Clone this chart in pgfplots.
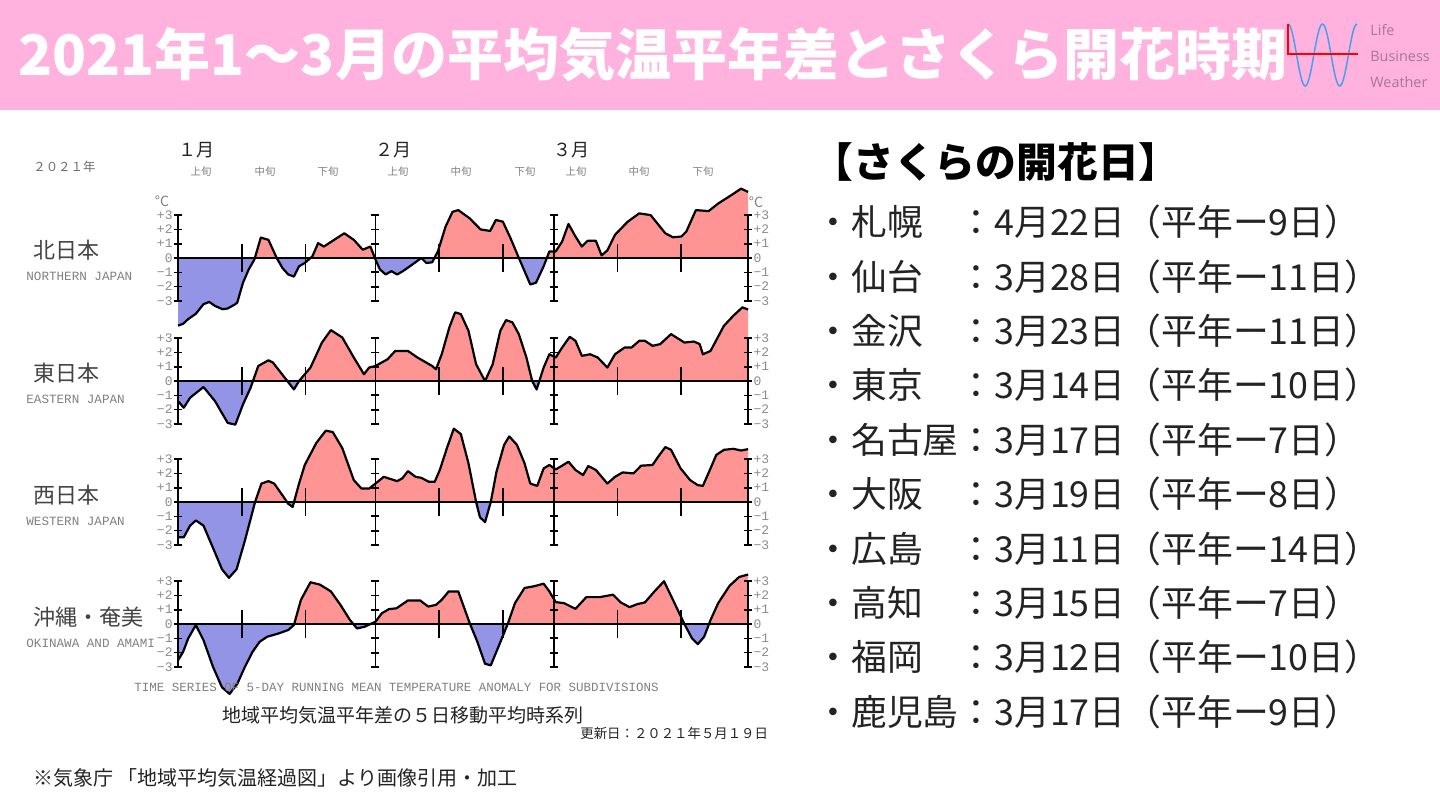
\documentclass[border=0pt]{standalone}
\usepackage{fontspec}
\usepackage{pgfplots}
\usepackage{pgfplotstable}
\pgfplotsset{compat=1.18}
\usetikzlibrary{plotmarks}
\setmainfont{Noto Sans CJK JP}
\newfontfamily\mono{Liberation Mono}
\newfontfamily\opens{Open Sans}
\newcommand\fs[1]{\fontsize{#1}{#1}\selectfont}

\definecolor{hdr}{RGB}{255,178,222}
\definecolor{warmfill}{RGB}{255,148,148}
\definecolor{coldfill}{RGB}{148,148,230}
\definecolor{logoblue}{RGB}{70,160,235}
\definecolor{logotxt}{RGB}{165,120,150}
\definecolor{ink}{RGB}{35,35,35}

% 5-day running mean anomaly (deg C), x = days since 1 Jan 2021
\pgfplotstableread{
d v
0 -4.73
0.8 -4.6
1.6 -4.27
2.8 -3.9
4.0 -3.23
4.9 -3.07
5.8 -3.35
7.0 -3.58
7.8 -3.53
9.0 -3.23
9.3 -3.12
10.2 -1.73
11.1 -0.8
12.0 -0.1
13.0 1.43
14.2 1.27
15.5 0
16.4 -0.7
17.3 -1.15
18.2 -1.3
19.0 -0.58
19.9 -0.35
21.1 0.12
22.0 1.04
22.9 0.8
24.1 1.15
26.1 1.73
27.6 1.27
29.0 0.58
30.2 0.8
31.0 -0.1
31.7 -0.8
32.6 -1.15
33.5 -0.92
34.4 -1.15
35.3 -0.92
36.4 -0.58
38.2 0
39.0 -0.35
39.9 -0.3
40.8 0.46
42.0 2.19
43.1 3.23
44.0 3.35
45.8 2.77
47.5 2.0
49.0 1.89
49.9 2.66
51.0 2.54
52.2 1.39
53.4 0.12
55.3 -1.85
56.2 -1.73
57.4 -0.58
58.3 0.46
59.3 0.46
60.3 1.15
61.3 2.38
62.4 1.5
63.4 0.8
64.3 1.2
65.6 1.2
66.5 0.18
67.4 0.53
68.6 1.62
70.6 2.54
72.4 3.12
74.2 3.0
76.5 1.73
77.7 1.45
79.0 1.5
79.8 1.85
81.3 3.35
83.3 3.28
84.8 3.81
86.6 4.32
88.4 4.85
89.5 4.62
}\north

\pgfplotstableread{
d v
0 -1.4
0.9 -1.87
1.9 -1.17
4.0 -0.42
5.8 -1.4
7.8 -2.93
9.0 -3.05
10.2 -1.64
11.4 -0.47
12.6 1.05
14.2 1.45
14.9 1.29
18.2 -0.59
19.0 0
20.8 0.94
22.6 2.69
24.0 3.56
25.8 3.04
27.6 1.64
29.2 0.47
30.0 0.94
31.0 1.05
32.9 1.52
34.1 2.1
36.1 2.1
37.6 1.64
39.9 1.05
40.5 0.82
41.4 1.87
42.6 3.75
43.5 4.8
44.4 4.68
45.6 3.51
46.8 1.17
48.2 0
49.4 1.17
50.6 3.51
51.5 4.26
52.5 4.1
53.5 3.28
54.7 1.64
55.6 0
56.3 -0.59
57.4 0.94
58.3 1.87
59.3 1.64
60.3 2.34
61.5 3.09
62.4 2.81
63.4 1.76
64.7 1.87
65.9 1.64
67.4 0.94
68.6 1.87
70.1 2.34
71.2 2.34
72.4 2.81
73.3 2.81
74.5 2.46
75.7 2.58
77.4 3.28
79.5 2.69
81.0 2.76
81.9 2.58
82.4 1.87
83.6 2.1
85.7 3.86
87.2 4.57
88.6 5.15
89.5 5.0
}\east

\pgfplotstableread{
d v
0 -2.47
0.9 -2.47
1.9 -1.65
2.8 -1.29
4.0 -1.65
5.8 -3.53
6.9 -4.7
8.0 -5.3
9.2 -4.7
10.5 -2.7
12.1 0
13.1 1.29
14.2 1.46
15.1 1.29
16.4 0.47
17.3 -0.12
18.0 -0.35
19.0 1.29
19.9 2.59
21.7 4.12
23.2 4.99
24.3 4.89
25.8 3.76
27.6 1.53
28.8 0.94
30.0 0.94
31.0 1.29
32.3 1.76
34.4 1.46
35.2 1.65
36.1 2.16
37.3 1.76
38.2 1.69
39.4 1.41
40.3 1.41
41.1 2.24
42.3 3.88
43.3 5.13
44.4 4.75
45.6 2.71
46.8 0
47.4 -1.06
48.2 -1.41
49.1 0
50.0 2.12
51.2 4.0
52.0 4.59
53.2 4.0
54.4 2.71
55.3 1.29
56.4 1.13
57.4 2.35
58.3 2.59
59.3 2.28
60.3 2.54
61.3 2.82
62.4 2.24
63.6 1.88
64.4 2.52
65.6 2.24
67.4 1.29
68.6 1.76
69.8 2.07
71.5 2.0
72.7 2.54
74.5 2.59
75.4 3.18
76.5 3.84
77.4 3.65
78.9 2.35
80.4 1.53
81.6 1.18
82.4 1.13
83.6 2.35
84.5 3.29
85.7 3.65
87.2 3.72
88.4 3.6
89.5 3.7
}\west

\pgfplotstableread{
d v
0 -2.54
0.8 -1.95
1.6 -1.01
2.8 -0.07
4.0 -1.13
5.5 -3.0
6.9 -4.42
8.1 -4.89
9.3 -4.19
10.5 -3.0
11.7 -1.95
12.8 -1.25
14.0 -0.89
15.8 -0.66
17.3 -0.42
18.2 -0.07
19.3 1.69
20.8 2.92
22.3 2.75
24.0 2.28
25.5 1.34
27.0 0.28
28.1 -0.31
29.3 -0.19
31.0 0.16
32.0 0.75
33.1 1.04
34.3 1.1
36.1 1.65
38.0 1.65
39.3 1.22
40.5 1.34
41.4 1.69
42.5 2.28
44.0 2.28
45.8 0.05
47.0 -1.25
48.2 -2.78
49.1 -2.89
50.3 -1.6
51.8 0.05
52.9 1.46
54.4 2.52
55.9 2.64
57.4 2.82
58.3 2.28
59.3 1.53
60.6 1.46
62.4 1.06
64.1 1.88
66.2 1.88
68.3 2.05
69.5 1.51
70.9 1.18
72.1 1.39
73.3 1.51
74.8 2.28
76.3 2.99
77.7 1.69
79.5 0
80.7 -1.01
81.6 -1.41
82.6 -0.89
83.6 0.28
84.8 1.46
86.6 2.68
88.1 3.29
89.5 3.46
}\okinawa

\pgfplotsset{
  unit/.style={x=3.185pt, y=7.15pt, xmin=0, xmax=89.5, anchor=origin},
  panel/.style={
    unit, ymin=-3, ymax=3, clip=false,
    axis x line=none, axis y line*=left,
    ytick={-3,-2,-1,0,1,2,3},
    yticklabels={−3,−2,−1,0,+1,+2,+3},
    tick align=center, major tick length=4pt,
    axis line style={black, line width=0.9pt},
    major tick style={black, line width=0.8pt},
    yticklabel style={font=\mono\fs{6.5}, text=gray!90, inner sep=0.5pt},
  },
  % an axis that only shows one side of the zero line
  half/.style={unit, hide axis, clip=true},
}

% #1 = vertical position of the zero line (pt, negative downwards), #2 = table
\newcommand\panel[2]{%
\begin{axis}[half, ymin=0, ymax=7, at={(89pt,#1)}]
  \addplot[fill=warmfill, draw=none] table[x=d, y=v] {#2}
    -- (axis cs:89.5,0) -- (axis cs:0,0) -- cycle;
\end{axis}
\begin{axis}[half, ymin=-7, ymax=0, at={(89pt,#1)}]
  \addplot[fill=coldfill, draw=none] table[x=d, y=v] {#2}
    -- (axis cs:89.5,0) -- (axis cs:0,0) -- cycle;
\end{axis}
\begin{axis}[panel, at={(89pt,#1)}]
  \addplot[black, line width=0.75pt] coordinates {(0,0) (89.5,0)};
  \pgfplotsinvokeforeach{10,20,41,51,69,79}{%
    \addplot[black, line width=0.8pt] coordinates {(##1,-1) (##1,1)};}
  \pgfplotsinvokeforeach{31,59}{%
    \addplot[black, line width=0.9pt, mark=-, mark size=2pt, mark options={solid}]
      coordinates {(##1,-3) (##1,-2) (##1,-1) (##1,0) (##1,1) (##1,2) (##1,3)};}
  \addplot[black, line width=1.1pt, line join=round] table[x=d, y=v] {#2};
\end{axis}
\begin{axis}[panel, axis y line*=right, at={(89pt,#1)}]
\end{axis}}

\begin{document}
\begin{tikzpicture}[x=0.5pt, y=-0.5pt]
  \fill[white] (0,0) rectangle (1440,810);
  \fill[hdr] (0,0) rectangle (1440,110);
  \node[anchor=west, text=white, font=\bfseries\fs{28}, inner sep=0] at (18,55)
    {2021年1〜3月の平均気温平年差とさくら開花時期};

  % logo
  \draw[logoblue, line width=0.75pt] (1288,24) cos (1296.6,55) sin (1305.2,86)
    cos (1313.8,55) sin (1322.5,24) cos (1331.1,55) sin (1339.7,86)
    cos (1348.4,55) sin (1357,24);
  \draw[red, line width=0.75pt] (1288,24) -- (1288,54) -- (1358,54);
  \node[anchor=west, text=logotxt, font=\opens\fs{7.2}, inner sep=0] at (1370,30) {Life};
  \node[anchor=west, text=logotxt, font=\opens\fs{7.2}, inner sep=0] at (1370,56) {Business};
  \node[anchor=west, text=logotxt, font=\opens\fs{7.2}, inner sep=0] at (1370,82) {Weather};

  % chart panels
  \panel{-129pt}{\north}
  \panel{-190.5pt}{\east}
  \panel{-251pt}{\west}
  \panel{-312pt}{\okinawa}

  % chart captions
  \node[anchor=west, text=gray!85!black, font=\fs{6.2}, inner sep=0] at (33,167) {２０２１年};
  \foreach \m/\x in {１月/178, ２月/375, ３月/553}
    \node[anchor=west, text=ink, font=\fs{9}, inner sep=0] at (\x,150) {\m};
  \foreach \t/\x in {上旬/201, 中旬/265, 下旬/328, 上旬/398, 中旬/461, 下旬/525, 上旬/576, 中旬/639, 下旬/703}
    \node[text=gray, font=\fs{5.2}, inner sep=0] at (\x,172) {\t};
  \node[text=gray, font=\fs{7}, inner sep=0] at (162,201) {°C};
  \node[text=gray, font=\fs{7}, inner sep=0] at (756,202) {°C};

  \foreach \j/\e/\y in {北日本/NORTHERN JAPAN/250, 東日本/EASTERN JAPAN/373, 西日本/WESTERN JAPAN/495, 沖縄・奄美/OKINAWA AND AMAMI/617}{
    \node[anchor=west, text=ink!85, font=\fs{11}, inner sep=0] at (33,\y) {\j};
    \node[anchor=west, text=gray, font=\mono\fs{6.3}, inner sep=0] at (26,\y+26) {\e};
  }
  \node[anchor=west, text=gray, font=\mono\fs{6.24}, inner sep=0] at (134,687)
    {TIME SERIES OF 5-DAY RUNNING MEAN TEMPERATURE ANOMALY FOR SUBDIVISIONS};
  \node[anchor=west, text=ink, font=\fs{9.5}, inner sep=0] at (222,715)
    {地域平均気温平年差の５日移動平均時系列};
  \node[anchor=west, text=ink, font=\fs{6.7}, inner sep=0] at (580,733)
    {更新日：２０２１年５月１９日};
  \node[anchor=west, text=ink, font=\fs{10}, inner sep=0] at (33,778)
    {※気象庁 「地域平均気温経過図」より画像引用・加工};

  % sakura list
  \node[anchor=west, text=black, font=\bfseries\fs{20.4}, inner sep=0] at (812,162)
    {【さくらの開花日】};
  \foreach \t [count=\i from 0] in {
    ・札幌　：4月22日（平年ー9日）,
    ・仙台　：3月28日（平年ー11日）,
    ・金沢　：3月23日（平年ー11日）,
    ・東京　：3月14日（平年ー10日）,
    ・名古屋：3月17日（平年ー7日）,
    ・大阪　：3月19日（平年ー8日）,
    ・広島　：3月11日（平年ー14日）,
    ・高知　：3月15日（平年ー7日）,
    ・福岡　：3月12日（平年ー10日）,
    ・鹿児島：3月17日（平年ー9日）}
    \node[anchor=west, text=ink, font=\fs{17.9}, inner sep=0] at (815,222+54.4*\i) {\t};

  \pgfresetboundingbox
  \useasboundingbox (0,0) rectangle (1440,810);
\end{tikzpicture}
\end{document}
